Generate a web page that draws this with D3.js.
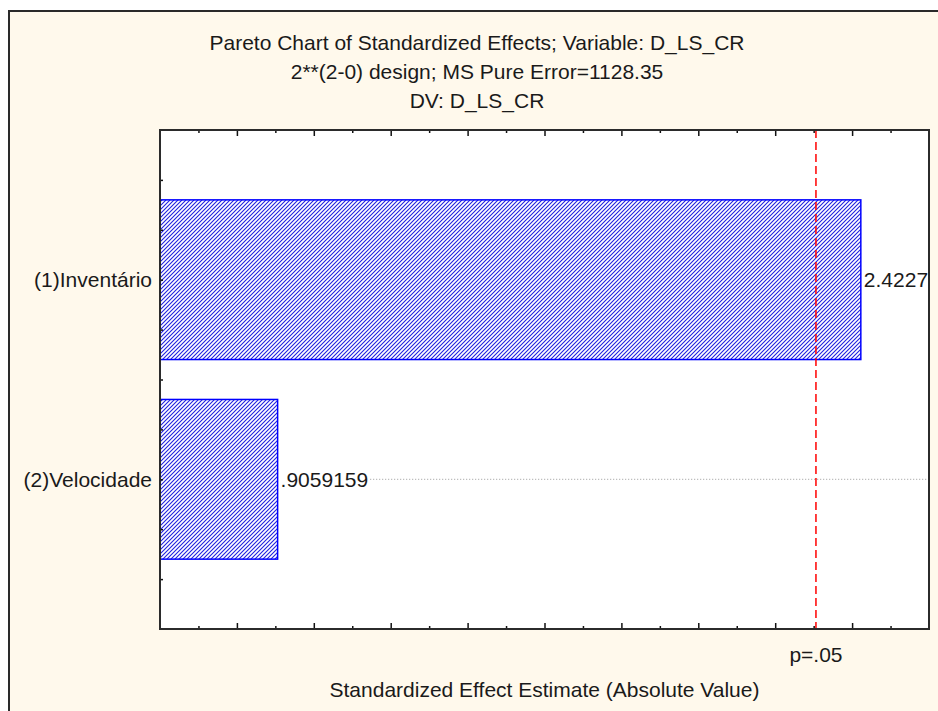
<!DOCTYPE html>
<html>
<head>
<meta charset="UTF-8" />
<title>Pareto Chart of Standardized Effects</title>
<script src="https://cdn.jsdelivr.net/npm/d3@7"></script>
<style>
  body { margin: 0; background: #ffffff; }
  svg { display: block; }
  text { font-family: "Liberation Sans", Arial, sans-serif; font-size: 21px; fill: #1a1a1a; }
</style>
</head>
<body>
<svg id="chart"></svg>
<script>
// chart values
const categories = ["(1)Inventário", "(2)Velocidade"];
const effects = [2.4227, 0.9059159];
const critical = 2.306;          // p=.05 line
const titleLines = [
  "Pareto Chart of Standardized Effects; Variable: D_LS_CR",
  "2**(2-0) design; MS Pure Error=1128.35",
  "DV: D_LS_CR"
];
const xTitle = "Standardized Effect Estimate (Absolute Value)";
const critLabel = "p=.05";

const width = 938, height = 711;
const margin = {top: 130, right: 9, bottom: 82, left: 160};
const iw = width - margin.left - margin.right;
const ih = height - margin.top - margin.bottom;

const svg = d3.select("#chart").attr("width", width).attr("height", height);

// window frame
svg.append("rect")
   .attr("x", 9).attr("y", 11)
   .attr("width", width + 10).attr("height", height + 10)
   .attr("fill", "#fff9ec")
   .attr("stroke", "#2a2a2a").attr("stroke-width", 2);

// titles
svg.selectAll(".title")
   .data(titleLines)
   .enter().append("text")
   .attr("class", "title")
   .attr("x", 477)
   .attr("y", (d, i) => 50 + i * 29)
   .attr("text-anchor", "middle")
   .text(d => d);

const g = svg.append("g").attr("transform", `translate(${margin.left},${margin.top})`);

// scales
const x = d3.scaleLinear().domain([0.6, 2.6]).range([0, iw]);
const y = d3.scaleLinear().domain([0, 5]).range([0, ih]);
const catPos = [1.5, 3.5];

// hatch pattern
const defs = svg.append("defs");
const pat = defs.append("pattern")
   .attr("id", "hatch")
   .attr("patternUnits", "userSpaceOnUse")
   .attr("width", 4).attr("height", 4);
pat.append("rect").attr("width", 4).attr("height", 4).attr("fill", "#fff");
pat.append("path")
   .attr("d", "M-1,1 l2,-2 M0,4 l4,-4 M3,5 l2,-2")
   .attr("stroke", "#1f1fe0").attr("stroke-width", 1.1);

defs.append("clipPath").attr("id", "plotclip")
   .append("rect").attr("width", iw).attr("height", ih);

g.append("rect").attr("width", iw).attr("height", ih).attr("fill", "#fff");

const plot = g.append("g").attr("clip-path", "url(#plotclip)");

// bars
plot.selectAll(".bar")
   .data(effects)
   .enter().append("rect")
   .attr("class", "bar")
   .attr("x", x(0.6))
   .attr("y", (d, i) => y(catPos[i] - 0.8))
   .attr("width", d => x(d) - x(0.6))
   .attr("height", y(1.6) - y(0))
   .attr("fill", "url(#hatch)")
   .attr("stroke", "#0000ff").attr("stroke-width", 1.5);

// value labels + dotted leaders
const fmt = v => d3.format(".7~g")(v).replace(/^0\./, ".");
plot.selectAll(".val")
   .data(effects)
   .enter().append("text")
   .attr("class", "val")
   .attr("x", d => x(d) + 3)
   .attr("y", (d, i) => y(catPos[i]))
   .attr("dy", "0.35em")
   .text(d => fmt(d))
   .each(function (d, i) {
     const len = this.getComputedTextLength();
     plot.append("line")
        .attr("x1", x(d) + 5 + len).attr("x2", iw)
        .attr("y1", y(catPos[i])).attr("y2", y(catPos[i]))
        .attr("stroke", "#999").attr("stroke-dasharray", "1,2");
   });

// critical line
plot.append("line")
   .attr("x1", x(critical)).attr("x2", x(critical))
   .attr("y1", 0).attr("y2", ih)
   .attr("stroke", "#ff0000").attr("stroke-width", 1.5)
   .attr("stroke-dasharray", "8,4");

// x ticks (bottom and top), pointing inward
const xt = d3.range(7, 26).map(v => v / 10);
const gb = g.append("g").attr("transform", `translate(0,${ih})`)
   .call(d3.axisBottom(x).tickValues(xt).tickFormat("").tickSizeOuter(0));
const gt = g.append("g")
   .call(d3.axisTop(x).tickValues(xt).tickFormat("").tickSizeOuter(0));
[gb, gt].forEach(a => {
  a.select(".domain").remove();
  a.selectAll(".tick line")
   .attr("stroke", "#111").attr("stroke-width", 1.5)
   .attr("y2", d => (Math.round(d * 10) % 2 === 0 ? 6 : 3) * (a === gb ? -1 : 1));
});

// y ticks on the left, pointing inward
const yt = d3.range(1, 10).map(v => v / 2);
const gl = g.append("g").call(d3.axisLeft(y).tickValues(yt).tickFormat("").tickSizeOuter(0).tickSizeInner(-3));
gl.select(".domain").remove();
gl.selectAll(".tick line").attr("stroke", "#111").attr("stroke-width", 1.5);

// category labels
g.selectAll(".cat")
   .data(categories)
   .enter().append("text")
   .attr("class", "cat")
   .attr("x", -8)
   .attr("y", (d, i) => y(catPos[i]))
   .attr("dy", "0.35em")
   .attr("text-anchor", "end")
   .text(d => d);

// plot frame
g.append("rect").attr("width", iw).attr("height", ih)
   .attr("fill", "none").attr("stroke", "#2b2b2b").attr("stroke-width", 2);

// p=.05 label and axis title
g.append("text").attr("class", "plabel")
   .attr("x", x(critical)).attr("y", ih + 33)
   .attr("text-anchor", "middle").text(critLabel);

g.append("text").attr("class", "xlabel")
   .attr("x", iw / 2).attr("y", ih + 68)
   .attr("text-anchor", "middle").text(xTitle);
</script>
</body>
</html>
